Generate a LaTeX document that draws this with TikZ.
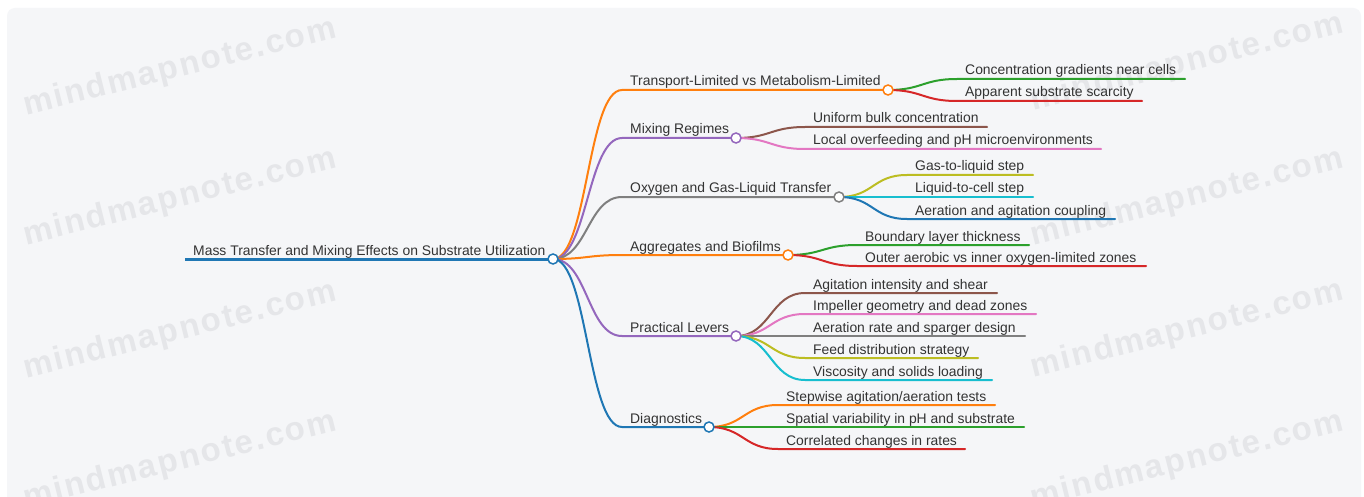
\documentclass[tikz,border=0pt]{standalone}
\usepackage{fontspec}
\setmainfont{Liberation Sans}
\newfontfamily\wmfont[LetterSpace=6]{Liberation Sans}
\usetikzlibrary{calc}
\definecolor{cblue}{HTML}{1F77B4}
\definecolor{corange}{HTML}{FF7F0E}
\definecolor{cgreen}{HTML}{2CA02C}
\definecolor{cred}{HTML}{D62728}
\definecolor{cpurple}{HTML}{9467BD}
\definecolor{cbrown}{HTML}{8C564B}
\definecolor{cpink}{HTML}{E377C2}
\definecolor{cgray}{HTML}{7F7F7F}
\definecolor{colive}{HTML}{BCBD22}
\definecolor{ccyan}{HTML}{17BECF}
\definecolor{ctxt}{HTML}{333333}
\definecolor{cpanel}{HTML}{F5F6F8}
\definecolor{cwm}{HTML}{E5E6E9}
\pgfdeclarelayer{bg}
\pgfdeclarelayer{lk}
\pgfsetlayers{bg,lk,main}
\newcommand\mleaf[7]{%
  \coordinate (#1s) at (#4,#3);
  \coordinate (#1e) at (#5,#3);
  \node[lbl] (#1) at ($(#1s)+(8,-4)$) {#7};
  \begin{pgfonlayer}{lk}
  \draw[link,#6] (#2.center) .. controls ($(#2.center)+(34.5,0)$) and ($(#1s)+(-34.5,0)$) .. (#1s) -- (#1e);
  \end{pgfonlayer}}
\newcommand\mbranch[6]{%
  \coordinate (#1s) at (622,#3);
  \node[dot,draw=#5] (#1) at (#4,#3) {};
  \node[lbl] (#1t) at (630,#3-4) {#6};
  \begin{pgfonlayer}{lk}
  \draw[link,#5] (#2.center) .. controls ($(#2.center)+(34.5,0)$) and ($(#1s)+(-34.5,0)$) .. (#1s) -- (#1.center);
  \end{pgfonlayer}}
\begin{document}
\begin{tikzpicture}[x=1pt,y=-1pt,
  lbl/.style={anchor=base west,inner sep=0pt,font=\fontsize{13.9}{16}\selectfont,text=ctxt},
  dot/.style={circle,fill=white,line width=1.5pt,minimum size=10pt,inner sep=0pt},
  link/.style={line width=2pt,line cap=round},
  wm/.style={font=\wmfont\bfseries\fontsize{33}{35}\selectfont,text=cwm,rotate=14,inner sep=0pt}]
\useasboundingbox (0,0) rectangle (1364,497);
\begin{pgfonlayer}{bg}
\fill[white] (0,0) rectangle (1364,497);
\fill[cpanel,rounded corners=8pt] (7,8) rectangle (1361,520);
\node[wm] (w1) at (180,68) {mindmapnote.com};
\node[wm] (w2) at (180,198) {mindmapnote.com};
\node[wm] (w3) at (180,331) {mindmapnote.com};
\node[wm] (w4) at (180,461) {mindmapnote.com};
\node[wm] (w5) at (1187,63) {mindmapnote.com};
\node[wm] (w6) at (1187,198) {mindmapnote.com};
\node[wm] (w7) at (1187,330) {mindmapnote.com};
\node[wm] (w8) at (1187,461) {mindmapnote.com};
\end{pgfonlayer}
% root
\node[dot,draw=cblue] (r) at (553,259) {};
\coordinate (r0) at (185,259);
\node[lbl] (rt) at (193,255) {Mass Transfer and Mixing Effects on Substrate Utilization};
\begin{pgfonlayer}{lk}
\draw[cblue,line width=3pt] (r0) -- (r.center);
\end{pgfonlayer}
% level 1
\mbranch{T}{r}{90}{888}{corange}{Transport-Limited vs Metabolism-Limited}
\mbranch{M}{r}{138}{736}{cpurple}{Mixing Regimes}
\mbranch{O}{r}{197}{839}{cgray}{Oxygen and Gas-Liquid Transfer}
\mbranch{A}{r}{255}{788}{corange}{Aggregates and Biofilms}
\mbranch{P}{r}{336}{736}{cpurple}{Practical Levers}
\mbranch{D}{r}{427}{709}{cblue}{Diagnostics}
% leaves
\mleaf{T1}{T}{79}{957}{1185}{cgreen}{Concentration gradients near cells}
\mleaf{T2}{T}{101}{957}{1142}{cred}{Apparent substrate scarcity}
\mleaf{M1}{M}{127}{805}{987}{cbrown}{Uniform bulk concentration}
\mleaf{M2}{M}{149}{805}{1101}{cpink}{Local overfeeding and pH microenvironments}
\mleaf{O1}{O}{175}{907}{1033}{colive}{Gas-to-liquid step}
\mleaf{O2}{O}{197}{907}{1033}{ccyan}{Liquid-to-cell step}
\mleaf{O3}{O}{219}{907}{1115}{cblue}{Aeration and agitation coupling}
\mleaf{A1}{A}{245}{857}{1029}{cgreen}{Boundary layer thickness}
\mleaf{A2}{A}{266}{857}{1146}{cred}{Outer aerobic vs inner oxygen-limited zones}
\mleaf{P1}{P}{293}{805}{997}{cbrown}{Agitation intensity and shear}
\mleaf{P2}{P}{314}{805}{1036}{cpink}{Impeller geometry and dead zones}
\mleaf{P3}{P}{336}{805}{1025}{cgray}{Aeration rate and sparger design}
\mleaf{P4}{P}{358}{805}{978}{colive}{Feed distribution strategy}
\mleaf{P5}{P}{380}{805}{992}{ccyan}{Viscosity and solids loading}
\mleaf{D1}{D}{405}{778}{995}{corange}{Stepwise agitation/aeration tests}
\mleaf{D2}{D}{427}{778}{1024}{cgreen}{Spatial variability in pH and substrate}
\mleaf{D3}{D}{449}{778}{965}{cred}{Correlated changes in rates}
\end{tikzpicture}
\end{document}
